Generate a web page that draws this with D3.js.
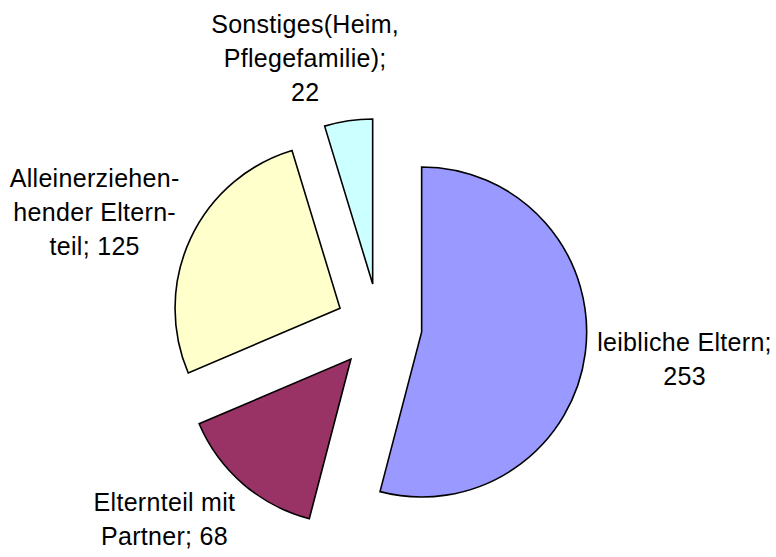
<!DOCTYPE html>
<html>
<head>
<meta charset="utf-8">
<script src="https://cdn.jsdelivr.net/npm/d3@7"></script>
<style>
  html, body { margin: 0; padding: 0; background: #fff; }
  text { font-family: "Liberation Sans", Arial, sans-serif; }
</style>
</head>
<body>
<div id="chart-area"></div>
<script>
const WIDTH = 776
const HEIGHT = 557
const CENTER = { X: 379, Y: 326.5 }
const RADIUS = 165
const EXPLODE = 43
const FONT_SIZE = 25
const LINE_HEIGHT = 34

// data, clockwise from 12 o'clock
const categories = ["leibliche Eltern", "Elternteil mit Partner", "Alleinerziehenhender Elternteil", "Sonstiges(Heim, Pflegefamilie)"]
const values = [253, 68, 125, 22]
const colors = ["#9999ff", "#993366", "#ffffcc", "#ccffff"]
// wrapped label text as shown, {v} = value
const labelLines = [
  ["leibliche Eltern;", "{v}"],
  ["Elternteil mit", "Partner; {v}"],
  ["Alleinerziehen-", "hender Eltern-", "teil; {v}"],
  ["Sonstiges(Heim,", "Pflegefamilie);", "{v}"]
]

const data = categories.map((c, i) => ({ category: c, value: values[i], color: colors[i], lines: labelLines[i] }))

const pie = d3.pie()
  .sort(null)
  .value(d => d.value)

const arc = d3.arc()
  .innerRadius(0)
  .outerRadius(RADIUS)

const svg = d3.select("#chart-area").append("svg")
  .attr("width", WIDTH)
  .attr("height", HEIGHT)

const arcs = pie(data)

// unit vector for an angle measured clockwise from 12 o'clock
const unit = a => [Math.sin(a), -Math.cos(a)]

const slices = svg.append("g")
  .selectAll("g")
  .data(arcs)
  .join("g")
    .attr("transform", d => {
      const [ux, uy] = unit((d.startAngle + d.endAngle) / 2)
      return `translate(${CENTER.X + ux * EXPLODE},${CENTER.Y + uy * EXPLODE})`
    })

slices.append("path")
    .attr("d", arc)
    .attr("fill", d => d.data.color)
    .attr("stroke", "#000")
    .attr("stroke-width", 1.6)
    .attr("stroke-linejoin", "miter")

// labels outside the end of each slice
const clamp = v => Math.max(-1, Math.min(1, v))

const labels = svg.append("g")
  .selectAll("text")
  .data(arcs)
  .join("text")
    .attr("font-size", FONT_SIZE)
    .attr("letter-spacing", 0.3)
    .attr("fill", "#000")
    .attr("text-anchor", "middle")

labels.selectAll("tspan")
  .data(d => d.data.lines.map(l => l.replace("{v}", d.data.value)))
  .join("tspan")
    .text(t => t)

labels.each(function(d) {
  const text = d3.select(this)
  const mid = (d.startAngle + d.endAngle) / 2
  const [ux, uy] = unit(mid)
  const px = CENTER.X + ux * (EXPLODE + RADIUS)
  const py = CENTER.Y + uy * (EXPLODE + RADIUS)
  const tspans = text.selectAll("tspan")
  const w = d3.max(tspans.nodes(), n => n.getComputedTextLength())
  const n = tspans.size()
  const h = n * LINE_HEIGHT
  const gap = 12
  const cx = px + ux * gap + clamp(ux * 3) * w / 2
  const cy = py + uy * gap + uy * h / 2
  tspans
    .attr("x", cx)
    .attr("y", (t, i) => cy - (n - 1) / 2 * LINE_HEIGHT + FONT_SIZE * 0.35 + i * LINE_HEIGHT)
})
</script>
</body>
</html>
